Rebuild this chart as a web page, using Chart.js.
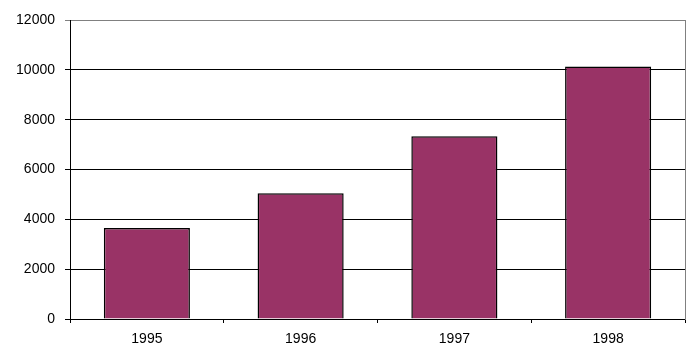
<!DOCTYPE html>
<html lang="en">
<head>
    <meta charset="UTF-8">
    <title>Yearly values 1995-1998</title>
    <style>
        body {
            margin: 0;
            background-color: #ffffff;
        }
        #wrap {
            width: 696px;
            height: 359px;
        }
    </style>
</head>
<body>
    <div id="wrap"><canvas id="chart" width="696" height="359"></canvas></div>
    <script src="https://cdn.jsdelivr.net/npm/chart.js@4/dist/chart.umd.min.js"></script>
    <script>
        const years = ['1995', '1996', '1997', '1998'];
        const values = [3650, 5050, 7330, 10130];
        const yTicks = [0, 2000, 4000, 6000, 8000, 10000, 12000];

        const barColor = '#993366';
        const labelFont = { family: "'Liberation Sans', Arial, sans-serif", size: 14 };

        new Chart(document.getElementById('chart'), {
            type: 'bar',
            data: {
                labels: years,
                datasets: [{
                    data: values,
                    backgroundColor: barColor,
                    borderColor: '#000000',
                    borderWidth: 1.5,
                    borderSkipped: 'start',
                    categoryPercentage: 1,
                    barPercentage: 0.56
                }]
            },
            options: {
                responsive: false,
                animation: false,
                layout: { padding: { top: 20, right: 11, left: 0, bottom: 0 } },
                plugins: {
                    legend: { display: false },
                    tooltip: { enabled: false }
                },
                scales: {
                    x: {
                        offset: true,
                        grid: {
                            offset: true,
                            drawOnChartArea: false,
                            color: '#000000',
                            tickLength: 4
                        },
                        border: { color: '#000000' },
                        ticks: { color: '#000000', font: labelFont, padding: 8 },
                        afterFit: (s) => { s.height = 40; }
                    },
                    y: {
                        min: yTicks[0],
                        max: yTicks[yTicks.length - 1],
                        afterBuildTicks: (s) => { s.ticks = yTicks.map(v => ({ value: v })); },
                        grid: {
                            color: (c) => c.tick && c.tick.value === 12000 ? '#808080' : '#000000',
                            tickLength: 5
                        },
                        border: { color: '#000000' },
                        ticks: {
                            color: '#000000',
                            font: labelFont,
                            padding: 10,
                            callback: (v) => String(v)
                        },
                        afterFit: (s) => { s.width = 70; }
                    },
                    y2: {
                        position: 'right',
                        min: 0,
                        max: 12000,
                        grid: { drawOnChartArea: false, drawTicks: false },
                        border: { color: '#808080' },
                        ticks: { display: false },
                        afterFit: (s) => { s.width = 0; }
                    }
                }
            }
        });
    </script>
</body>
</html>
